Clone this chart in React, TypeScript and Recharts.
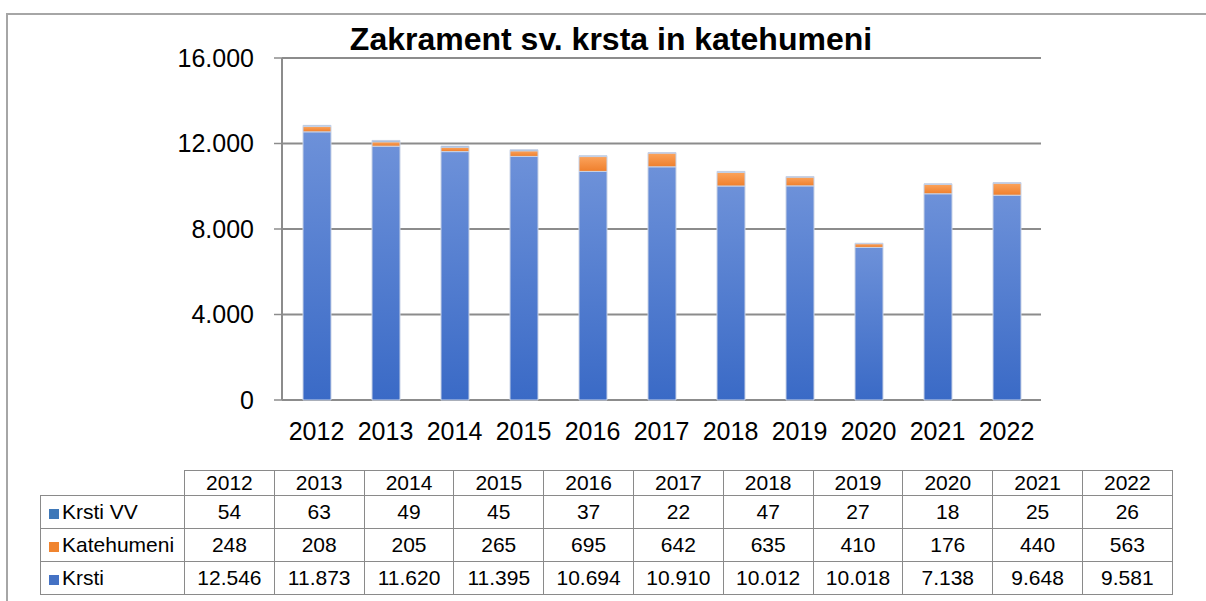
import React from 'react';
import { BarChart, Bar, XAxis, YAxis, CartesianGrid } from 'recharts';

const years = ['2012', '2013', '2014', '2015', '2016', '2017', '2018', '2019', '2020', '2021', '2022'];
const krsti = [12546, 11873, 11620, 11395, 10694, 10910, 10012, 10018, 7138, 9648, 9581];
const katehumeni = [248, 208, 205, 265, 695, 642, 635, 410, 176, 440, 563];
const krstiVV = [54, 63, 49, 45, 37, 22, 47, 27, 18, 25, 26];
const yTicks = [0, 4000, 8000, 12000, 16000];
const edgeTicks = years.map((_, i) => i).concat([years.length]);

const data = years.map((year, i) => ({
  year,
  krsti: krsti[i],
  katehumeni: katehumeni[i],
  krstiVV: krstiVV[i],
}));

const fmt = (v: number) => String(v).replace(/\B(?=(\d{3})+(?!\d))/g, '.');

const FONT = '"Liberation Sans", Arial, sans-serif';
const GRID = '#8c8c8c';

const rows = [
  { name: 'Krsti VV', color: '#3f78b8', values: krstiVV },
  { name: 'Katehumeni', color: '#f0842f', values: katehumeni },
  { name: 'Krsti', color: '#4472c4', values: krsti },
];

const cell: React.CSSProperties = {
  border: '1px solid #8a8a8a',
  textAlign: 'center',
  padding: 0,
};

export default function App() {
  return (
    <div style={{ position: 'absolute', top: 0, left: 0, width: 1206, height: 601, background: '#fff', fontFamily: FONT, overflow: 'hidden' }}>
      {/* outer frame */}
      <div style={{ position: 'absolute', left: 6, top: 13, right: -10, bottom: -10, borderTop: '2px solid #a6a6a6', borderLeft: '2px solid #a6a6a6' }} />

      <div style={{ position: 'absolute', left: 0, width: 1222, top: 23, textAlign: 'center', fontSize: 32, lineHeight: '32px', fontWeight: 'bold', color: '#000' }}>
        Zakrament sv. krsta in katehumeni
      </div>

      <div style={{ position: 'absolute', left: 0, top: 0 }}>
        <BarChart width={1206} height={450} data={data} margin={{ top: 58, right: 165, bottom: 0, left: 0 }} barSize={28}>
          <defs>
            <linearGradient id="gBlue" x1="0" y1="0" x2="0" y2="1">
              <stop offset="0%" stopColor="#6d91d9" />
              <stop offset="100%" stopColor="#3a6ac6" />
            </linearGradient>
            <linearGradient id="gOrange" x1="0" y1="0" x2="0" y2="1">
              <stop offset="0%" stopColor="#fba35c" />
              <stop offset="100%" stopColor="#ef7f2c" />
            </linearGradient>
          </defs>
          <CartesianGrid vertical={false} stroke={GRID} strokeWidth={2} />
          <XAxis
            xAxisId="edge"
            type="number"
            domain={[0, years.length]}
            ticks={edgeTicks}
            allowDataOverflow
            height={0}
            tick={false}
            tickSize={7}
            tickLine={{ stroke: GRID, strokeWidth: 1.5 }}
            axisLine={{ stroke: GRID, strokeWidth: 2 }}
          />
          <XAxis
            dataKey="year"
            height={50}
            interval={0}
            axisLine={false}
            tickLine={false}
            tickMargin={16}
            tick={{ fontSize: 25, fill: '#000', fontFamily: FONT }}
          />
          <YAxis
            width={282}
            domain={[0, 16000]}
            ticks={yTicks}
            interval={0}
            tickFormatter={fmt}
            tickSize={8}
            tickMargin={20}
            tick={{ fontSize: 25, fill: '#000', fontFamily: FONT }}
            tickLine={{ stroke: GRID, strokeWidth: 1.5 }}
            axisLine={{ stroke: GRID, strokeWidth: 2 }}
          />
          <Bar dataKey="krsti" stackId="a" fill="url(#gBlue)" stroke="#c8d2e6" strokeWidth={1} isAnimationActive={false} />
          <Bar dataKey="katehumeni" stackId="a" fill="url(#gOrange)" stroke="#c8d2e6" strokeWidth={1} isAnimationActive={false} />
          <Bar dataKey="krstiVV" stackId="a" fill="#3f78b8" stroke="#c8d2e6" strokeWidth={1} isAnimationActive={false} />
        </BarChart>
      </div>

      <table style={{ position: 'absolute', left: 40, top: 470, borderCollapse: 'collapse', tableLayout: 'fixed', width: 1132, fontSize: 21, fontFamily: FONT, color: '#000' }}>
        <colgroup>
          <col style={{ width: 144 }} />
          {years.map(y => <col key={y} style={{ width: 89.8 }} />)}
        </colgroup>
        <tbody>
          <tr style={{ height: 24 }}>
            <td style={{ padding: 0 }} />
            {years.map(y => <td key={y} style={cell}>{y}</td>)}
          </tr>
          {rows.map(r => (
            <tr key={r.name} style={{ height: 33 }}>
              <td style={{ ...cell, textAlign: 'left', whiteSpace: 'nowrap' }}>
                <span style={{ display: 'inline-block', width: 10, height: 10, background: r.color, margin: '0 3px 0 8px' }} />
                {r.name}
              </td>
              {r.values.map((v, i) => <td key={i} style={cell}>{fmt(v)}</td>)}
            </tr>
          ))}
        </tbody>
      </table>
    </div>
  );
}
